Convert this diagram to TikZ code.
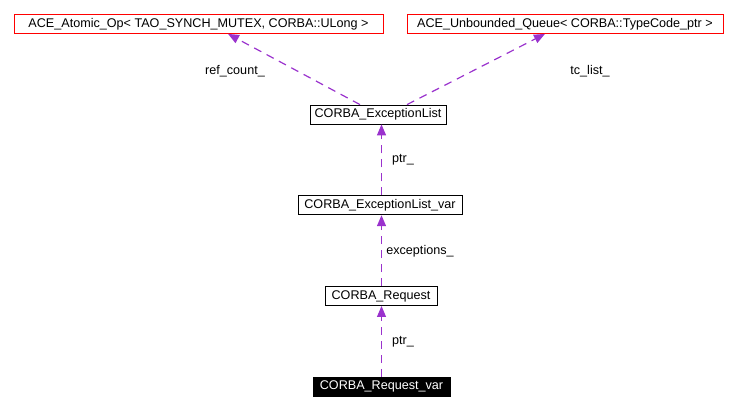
\documentclass[tikz,border=0pt]{standalone}
\usepackage{fontspec}
\setmainfont{Liberation Sans}
\usepackage{tikz}
\usetikzlibrary{arrows.meta,positioning}
\definecolor{member}{HTML}{9A32CD}
\tikzset{
	classbox/.style={
		draw, rectangle, minimum height=19pt, inner sep=0pt, line width=0.8pt,
		font=\fontsize{12.6}{14}\selectfont, text=black
	},
	tplbox/.style={classbox, draw=red},
	curbox/.style={classbox, fill=black, text=white},
	usage/.style={
		draw=member, line width=1.2pt, dash pattern=on 8pt off 6pt,
		-{Triangle[length=11pt,width=9pt,fill=member]}
	},
	memberlabel/.style={font=\fontsize{12.6}{14}\selectfont}
}
\begin{document}
\begin{tikzpicture}[x=1pt,y=-1pt,node distance=71pt]
	\useasboundingbox (0,0) rectangle (737,411);
	\node[tplbox, minimum width=369pt] (atomic) at (198.5,24) {ACE\_Atomic\_Op< TAO\_SYNCH\_MUTEX, CORBA::ULong >};
	\node[tplbox, minimum width=316pt] (queue) at (565,24) {ACE\_Unbounded\_Queue< CORBA::TypeCode\_ptr >};
	\node[classbox, minimum width=136pt] (exclist) at (378,114.5) {CORBA\_ExceptionList};
	\node[classbox, minimum width=164pt] (exclistvar) [below=of exclist, xshift=2pt] {CORBA\_ExceptionList\_var};
	\node[classbox, minimum width=112pt] (request) [below=of exclistvar, xshift=1pt] {CORBA\_Request};
	\node[curbox, minimum width=137pt] (requestvar) [below=of request, xshift=0.5pt] {CORBA\_Request\_var};
	\coordinate (col) at (381.5,0);
	% members
	\draw[usage] ([xshift=-18pt]exclist.north) -- ([xshift=29.5pt]atomic.south);
	\draw[usage] ([xshift=29pt]exclist.north) -- ([xshift=-20pt]queue.south);
	\draw[usage] (exclistvar.north -| col) -- (exclist.south -| col);
	\draw[usage] (request.north -| col) -- (exclistvar.south -| col);
	\draw[usage] (requestvar.north -| col) -- (request.south -| col);
	\node[memberlabel] (refcount) at (235,71) {ref\_count\_};
	\node[memberlabel] (tclist) at (590,71) {tc\_list\_};
	\node[memberlabel] (ptrone) at (403,160) {ptr\_};
	\node[memberlabel] (exceptions) at (420,251) {exceptions\_};
	\node[memberlabel] (ptrtwo) at (403,342) {ptr\_};
\end{tikzpicture}
\end{document}
